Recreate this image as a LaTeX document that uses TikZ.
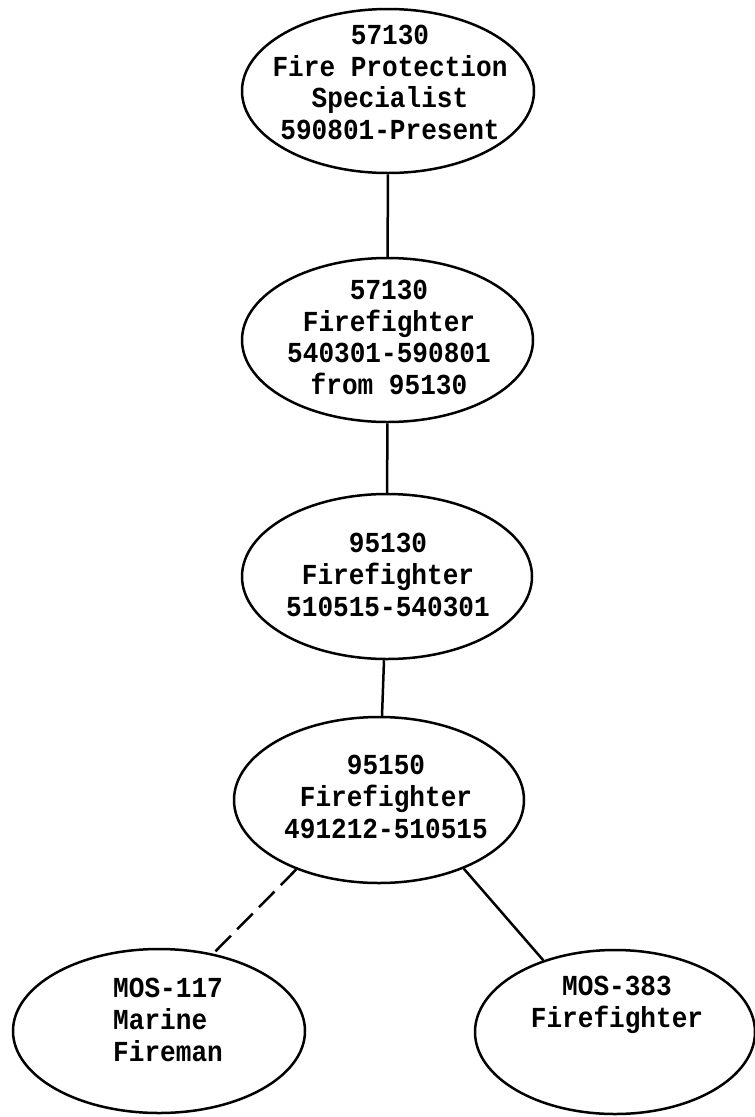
\documentclass[tikz,border=0pt]{standalone}
\usepackage{fontspec}
\setmonofont[FakeStretch=0.9]{Liberation Mono}
\usetikzlibrary{shapes.geometric}
\tikzset{
  ell/.style={ellipse, draw, line width=2.5pt, inner sep=0pt},
  lbl/.style={inner sep=0pt, align=center, font=\fontsize{29}{31.7}\selectfont\ttfamily\bfseries},
  conn/.style={line width=2.5pt},
  dconn/.style={line width=2.5pt, dash pattern=on 22pt off 9pt}
}
\begin{document}
\begin{tikzpicture}[x=1pt, y=-1pt]
\useasboundingbox (0,0) rectangle (755,1117);
% ellipses
\node[ell, minimum width=292pt, minimum height=164pt] (e1) at (388,91) {};
\node[ell, minimum width=291pt, minimum height=164pt] (e2) at (387.5,340) {};
\node[ell, minimum width=290pt, minimum height=165pt] (e3) at (387,576.5) {};
\node[ell, minimum width=290pt, minimum height=166pt] (e4) at (379,800) {};
\node[ell, minimum width=292pt, minimum height=164pt] (e5) at (159,1031) {};
\node[ell, minimum width=280pt, minimum height=164pt] (e6) at (615,1032) {};
% texts
\node[lbl] (t1) at (390,82.5) {57130\\Fire Protection\\Specialist\\590801-Present};
\node[lbl] (t2) at (389,337.5) {57130\\Firefighter\\540301-590801\\from 95130};
\node[lbl] (t3) at (388,575) {95130\\Firefighter\\510515-540301};
\node[lbl] (t4) at (386,797) {95150\\Firefighter\\491212-510515};
\node[lbl, align=left, anchor=west] (t5) at (113,1020) {MOS-117\\Marine\\Fireman};
\node[lbl] (t6) at (617,1005) {MOS-383\\Firefighter};
% connectors
\draw[conn] (e1) -- (e2);
\draw[conn] (e2) -- (e3);
\draw[conn] (e3) -- (e4);
\draw[dconn] (e4.-140) -- (e5.55);
\draw[conn] (e4.-39) -- (e6.135);
\end{tikzpicture}
\end{document}
